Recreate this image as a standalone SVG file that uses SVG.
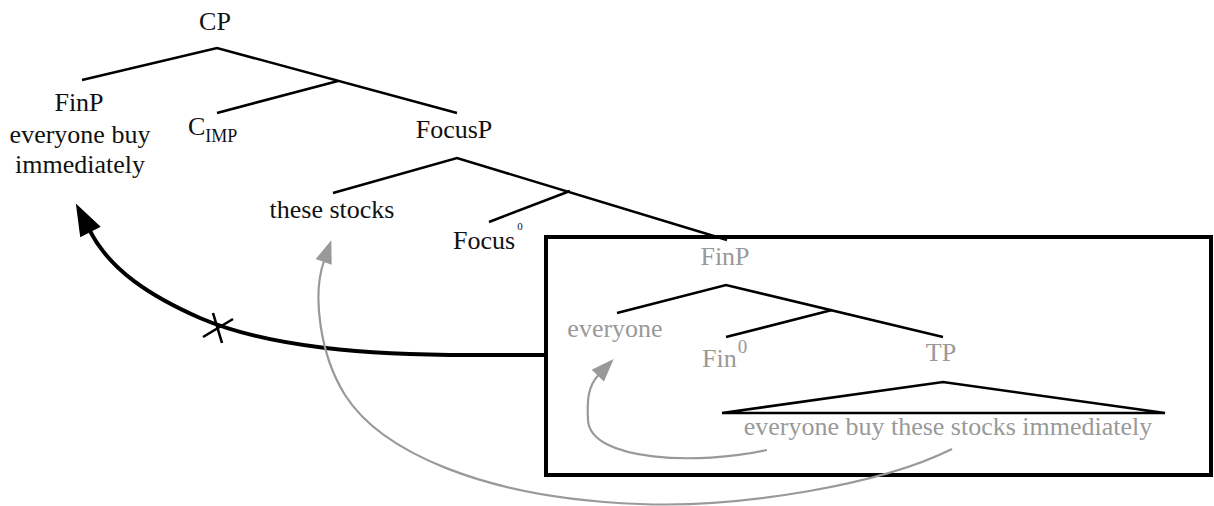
<svg xmlns="http://www.w3.org/2000/svg" width="1214" height="506" viewBox="0 0 1214 506">
<style>
  text { font-family: "Liberation Serif", "Times New Roman", serif; font-size: 26px; fill: #111; }
  .g { fill: #999; }
  .mid { text-anchor: middle; }
  .sub { font-size: 18px; }
  .tree { stroke: #000; stroke-width: 2.6; fill: none; stroke-linecap: butt; }
  .move { stroke: #999; stroke-width: 2.2; fill: none; }
  .bad { stroke: #000; stroke-width: 4; fill: none; }
</style>
<defs>
  <marker id="headBlack" markerUnits="userSpaceOnUse" markerWidth="40" markerHeight="40" refX="0" refY="0" orient="auto" overflow="visible">
    <path d="M31,0 L-1,-11.5 L-1,11.5 Z" fill="#000"/>
  </marker>
  <marker id="headGray" markerUnits="userSpaceOnUse" markerWidth="30" markerHeight="30" refX="0" refY="0" orient="auto" overflow="visible">
    <path d="M22,0 L-1,-8.5 L-1,8.5 Z" fill="#999"/>
  </marker>
</defs>

<g id="tree-lines">
  <path class="tree" d="M82,80 L217,48 L457,113"/>
  <path class="tree" d="M217,113 L338,81"/>
  <path class="tree" d="M333,193 L457,158 L727,240"/>
  <path class="tree" d="M489,222 L570,191"/>
  <path class="tree" d="M617,313 L726,285 L943,337"/>
  <path class="tree" d="M726,337 L832,310"/>
  <path class="tree" d="M722,413 L943,382 L1165,413 Z"/>
</g>

<g id="box">
  <rect x="546" y="237" width="665" height="238" fill="none" stroke="#000" stroke-width="4"/>
</g>

<g id="node-CP"><text class="mid" x="215" y="30">CP</text></g>
<g id="node-FinP-high">
  <text class="mid" x="79" y="111">FinP</text>
  <text class="mid" x="80" y="143">everyone buy</text>
  <text class="mid" x="80" y="173">immediately</text>
</g>
<g id="node-CIMP"><text x="188" y="135">C<tspan class="sub" dy="7">IMP</tspan></text></g>
<g id="node-FocusP"><text class="mid" x="454" y="138">FocusP</text></g>
<g id="node-these-stocks"><text class="mid" x="332" y="218">these stocks</text></g>
<g id="node-Focus0"><text x="453" y="249">Focus<tspan font-size="11" dx="2" dy="-19">0</tspan></text></g>
<g id="node-FinP-low"><text class="mid g" x="725" y="265">FinP</text></g>
<g id="node-everyone"><text class="mid g" x="615" y="337">everyone</text></g>
<g id="node-Fin0"><text class="g" x="702" y="367">Fin<tspan font-size="19" dx="1" dy="-14">0</tspan></text></g>
<g id="node-TP"><text class="mid g" x="941" y="361">TP</text></g>
<g id="node-TP-content"><text class="mid g" x="948" y="435">everyone buy these stocks immediately</text></g>

<g id="connectors">
  <path class="bad" d="M545,355 L470,355 C370,355 270,348 200,318 C150,296 110,270 90,231" marker-end="url(#headBlack)"/>
  <path d="M203,337 L233,319 M213,313 L222,343" stroke="#000" stroke-width="2.6" fill="none"/>
  <path class="move" d="M767,450 C700,465 590,462 588,420 C587,400 588,386 598.5,375" marker-end="url(#headGray)"/>
  <path class="move" d="M952,449 C880,485 740,508 640,504 C480,498 380,450 345,395 C320,355 312,295 324,261" marker-end="url(#headGray)"/>
</g>
</svg>
